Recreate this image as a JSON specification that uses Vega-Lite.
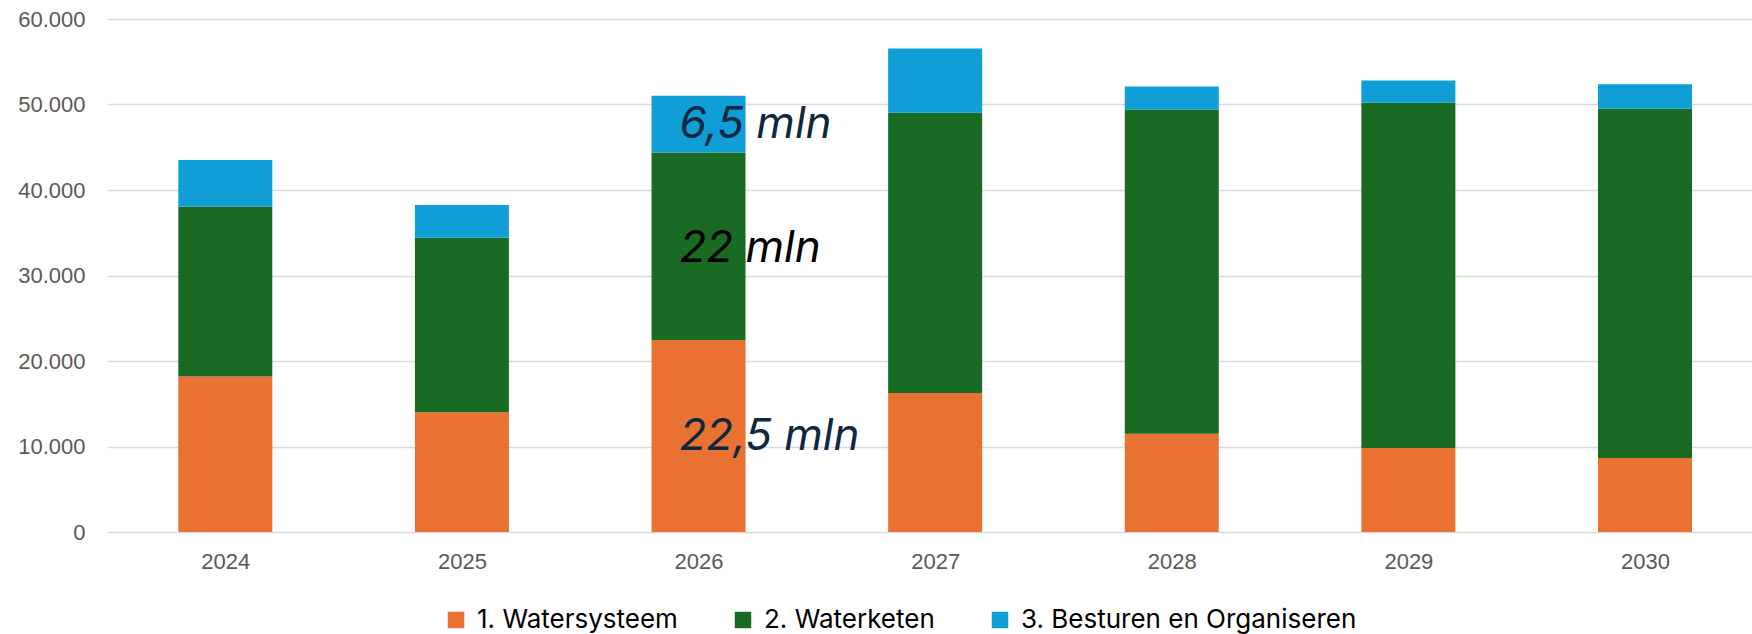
{
  "$schema": "https://vega.github.io/schema/vega-lite/v6.json",
  "width": 1644,
  "height": 513,
  "autosize": {"type": "none"},
  "padding": {"left": 107, "top": 19, "right": 1, "bottom": 102},
  "background": "white",
  "config": {
    "view": {"stroke": null},
    "locale": {"number": {"decimal": ",", "thousands": ".", "grouping": [3], "currency": ["€", ""]}},
    "font": "Liberation Sans"
  },
  "layer": [
    {
      "data": {
        "values": [
          {"jaar": 2024, "programma": "1. Watersysteem", "bedrag": 18200},
          {"jaar": 2024, "programma": "2. Waterketen", "bedrag": 19860},
          {"jaar": 2024, "programma": "3. Besturen en Organiseren", "bedrag": 5440},
          {"jaar": 2025, "programma": "1. Watersysteem", "bedrag": 14000},
          {"jaar": 2025, "programma": "2. Waterketen", "bedrag": 20420},
          {"jaar": 2025, "programma": "3. Besturen en Organiseren", "bedrag": 3830},
          {"jaar": 2026, "programma": "1. Watersysteem", "bedrag": 22450},
          {"jaar": 2026, "programma": "2. Waterketen", "bedrag": 21950},
          {"jaar": 2026, "programma": "3. Besturen en Organiseren", "bedrag": 6620},
          {"jaar": 2027, "programma": "1. Watersysteem", "bedrag": 16260},
          {"jaar": 2027, "programma": "2. Waterketen", "bedrag": 32770},
          {"jaar": 2027, "programma": "3. Besturen en Organiseren", "bedrag": 7520},
          {"jaar": 2028, "programma": "1. Watersysteem", "bedrag": 11490},
          {"jaar": 2028, "programma": "2. Waterketen", "bedrag": 37920},
          {"jaar": 2028, "programma": "3. Besturen en Organiseren", "bedrag": 2700},
          {"jaar": 2029, "programma": "1. Watersysteem", "bedrag": 9830},
          {"jaar": 2029, "programma": "2. Waterketen", "bedrag": 40380},
          {"jaar": 2029, "programma": "3. Besturen en Organiseren", "bedrag": 2600},
          {"jaar": 2030, "programma": "1. Watersysteem", "bedrag": 8650},
          {"jaar": 2030, "programma": "2. Waterketen", "bedrag": 40850},
          {"jaar": 2030, "programma": "3. Besturen en Organiseren", "bedrag": 2880}
        ]
      },
      "mark": {"type": "bar", "width": 94},
      "encoding": {
        "x": {
          "field": "jaar",
          "type": "quantitative",
          "scale": {"domain": [2023.5, 2030.448], "nice": false, "zero": false, "padding": 0},
          "axis": {
            "values": [2024, 2025, 2026, 2027, 2028, 2029, 2030],
            "format": "d",
            "title": null,
            "grid": false,
            "domain": false,
            "ticks": false,
            "labelFontSize": 22,
            "labelColor": "#595959",
            "labelPadding": 19
          }
        },
        "y": {
          "field": "bedrag",
          "type": "quantitative",
          "aggregate": "sum",
          "stack": "zero",
          "scale": {"domain": [0, 60000], "nice": false},
          "axis": {
            "values": [0, 10000, 20000, 30000, 40000, 50000, 60000],
            "format": ",d",
            "title": null,
            "domain": false,
            "ticks": false,
            "gridColor": "#D9D9D9",
            "gridWidth": 1.5,
            "labelFontSize": 22,
            "labelColor": "#595959",
            "labelPadding": 22
          }
        },
        "color": {
          "field": "programma",
          "type": "nominal",
          "scale": {
            "domain": ["1. Watersysteem", "2. Waterketen", "3. Besturen en Organiseren"],
            "range": ["#E97132", "#196B24", "#0F9ED5"]
          },
          "legend": {
            "title": null,
            "orient": "none",
            "direction": "horizontal",
            "columns": 3,
            "legendX": 336,
            "legendY": 588,
            "symbolType": "square",
            "symbolSize": 272,
            "symbolStrokeWidth": 0,
            "symbolOpacity": 1,
            "labelFont": "Inter",
            "labelFontSize": 26,
            "labelColor": "#000000",
            "labelOffset": 8,
            "columnPadding": 52,
            "labelLimit": 600
          }
        },
        "order": {"field": "programma", "sort": "ascending"}
      }
    },
    {
      "data": {
        "values": [
          {"jaar": 2026, "waarde": 46140, "tekst": "6,5 mln"},
          {"jaar": 2026, "waarde": 31580, "tekst": "22 mln"},
          {"jaar": 2026, "waarde": 9626, "tekst": "22,5 mln"}
        ]
      },
      "mark": {
        "type": "text",
        "align": "left",
        "baseline": "alphabetic",
        "dx": -19,
        "fontSize": 44,
        "fontStyle": "italic",
        "font": "Inter"
      },
      "encoding": {
        "x": {"field": "jaar", "type": "quantitative"},
        "y": {"field": "waarde", "type": "quantitative"},
        "text": {"field": "tekst"},
        "color": {
          "field": "tekst",
          "type": "nominal",
          "scale": {"domain": ["6,5 mln", "22 mln", "22,5 mln"], "range": ["#0E2841", "#000000", "#0E2841"]},
          "legend": null
        }
      }
    }
  ],
  "resolve": {"scale": {"color": "independent"}}
}
